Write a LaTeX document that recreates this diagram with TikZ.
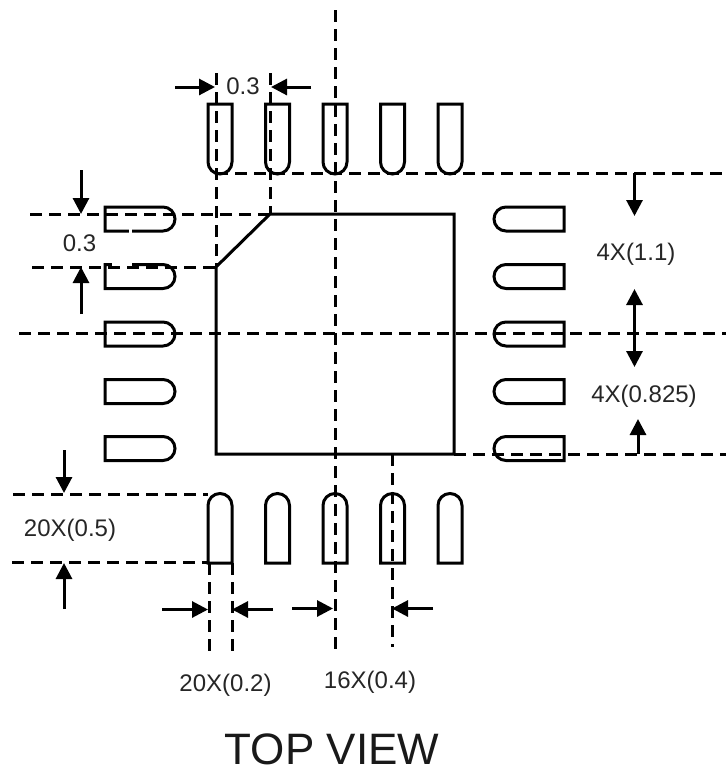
\documentclass[tikz,border=0pt]{standalone}
\usepackage{fontspec}
\setmainfont{Liberation Sans}
\usetikzlibrary{arrows.meta}
\tikzset{
  outline/.style={line width=3pt,line join=miter},
  guide/.style={line width=3pt,dash pattern=on 12pt off 7pt},
  dim/.style={line width=3pt,-{Triangle[length=16pt,width=16pt]}},
  dimboth/.style={line width=3pt,{Triangle[length=16pt,width=16pt]}-{Triangle[length=16pt,width=16pt]}},
  lab/.style={font=\fontsize{24}{24}\selectfont,inner sep=0pt,text=black!85},
  title/.style={font=\fontsize{44}{44}\selectfont,inner sep=0pt,text=black!90}
}
\begin{document}
\begin{tikzpicture}[x=1pt,y=-1pt]
\useasboundingbox (0,0) rectangle (726,772);
% package body
\draw[outline] (270,214) -- (454,214) -- (454,454) -- (216,454) -- (216,267) -- cycle;
% top and bottom pads
\foreach \x in {208,265.5,323,380.5,438}{
  \draw[outline] (\x,104) [rounded corners=12pt] -- (\x,174) -- (\x+24,174) [sharp corners] -- (\x+24,104) -- cycle;
  \draw[outline] (\x,563) [rounded corners=12pt] -- (\x,493.5) -- (\x+24,493.5) [sharp corners] -- (\x+24,563) -- cycle;
}
% left and right pads
\foreach \y in {207,264.5,322,379.5,436.5}{
  \draw[outline] (105,\y) -- (163,\y) [rounded corners=12pt] -- (175,\y) -- (175,\y+24) [sharp corners] -- (163,\y+24) -- (105,\y+24) -- cycle;
  \draw[outline] (564,\y) -- (506,\y) [rounded corners=12pt] -- (494,\y) -- (494,\y+24) [sharp corners] -- (506,\y+24) -- (564,\y+24) -- cycle;
}
% small breaks in the pad outlines
\draw[white,line width=3.4pt] (129,231) -- (132,231);
\draw[white,line width=3.4pt] (112,265) -- (132,265);
% guide lines
\draw[guide] (335,10) -- (335,654);
\draw[guide] (19,333.5) -- (726,333.5);
\draw[guide] (216,73) -- (216,267);
\draw[guide] (270,73) -- (270,214);
\draw[guide] (216,173) -- (726,173);
\draw[guide] (30,214) -- (270,214);
\draw[guide] (32,267) -- (216,267);
\draw[guide] (13,494) -- (208,494);
\draw[guide] (12,562.5) -- (208,562.5);
\draw[guide] (209,563) -- (209,656);
\draw[guide] (232,563) -- (232,656);
\draw[guide] (392,454) -- (392,647);
\draw[guide] (454,454) -- (726,454);
% dimension arrows
\draw[dim] (175,87) -- (215,87);
\draw[dim] (311,87) -- (271,87);
\draw[dim] (81,170) -- (81,214);
\draw[dim] (81,314) -- (81,267);
\draw[dim] (634.5,173) -- (634.5,216);
\draw[dimboth] (634.5,289) -- (634.5,367);
\draw[dim] (638,454) -- (638,419);
\draw[dim] (64,450) -- (64,493);
\draw[dim] (64,609) -- (64,563);
\draw[dim] (162,609.5) -- (208,609.5);
\draw[dim] (273,609.5) -- (232,609.5);
\draw[dim] (292,608.5) -- (333,608.5);
\draw[dim] (433,608.5) -- (392,608.5);
% labels
\node[lab] (topgap) at (243,86) {0.3};
\node[lab] (leftgap) at (79.5,243) {0.3};
\node[lab] (rowa) at (636,254) {4X(1.1)};
\node[lab] (rowb) at (644,396) {4X(0.825)};
\node[lab] (padlen) at (70,530) {20X(0.5)};
\node[lab] (padw) at (225.5,685) {20X(0.2)};
\node[lab] (pitch) at (370,682) {16X(0.4)};
\node[title] (view) at (332,749) {TOP VIEW};
\end{tikzpicture}
\end{document}
